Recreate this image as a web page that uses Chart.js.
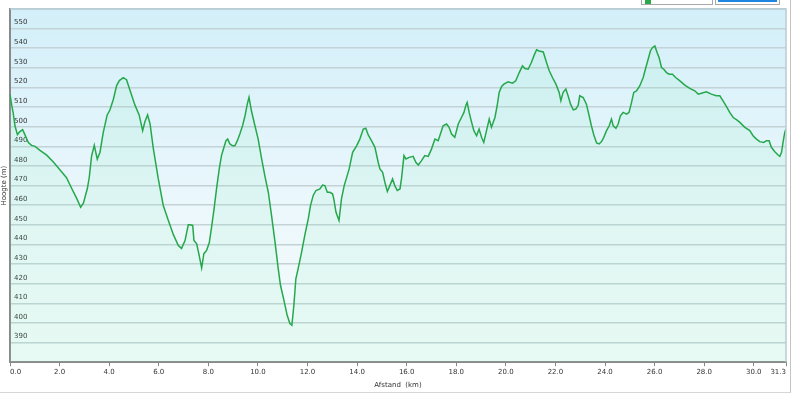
<!DOCTYPE html>
<html>
<head>
<meta charset="utf-8">
<script src="https://cdn.jsdelivr.net/npm/chart.js@4/dist/chart.umd.min.js"></script>
<style>
html,body{margin:0;padding:0;background:#fff;}
#wrap{position:relative;width:790px;height:392px;border-right:1px solid #c4c4c4;border-bottom:1px solid #d6d6d6;}
#chart{display:block;}
.tb{position:absolute;top:-10px;height:13px;border:1px solid #a8a8a8;background:#fff;}
#legBox{left:641px;width:70px;}
#legBox i{position:absolute;left:3px;top:9px;width:6px;height:4px;background:#2aa84a;}
#btnBox{left:715px;width:63px;}
#btnBox i{position:absolute;left:2px;right:2px;top:8px;height:3px;background:#1e86e0;}
</style>
</head>
<body>
<div id="wrap">
  <canvas id="chart" width="790" height="392"></canvas>
  <div class="tb" id="legBox"><i></i></div>
  <div class="tb" id="btnBox"><i></i></div>
</div>
<script>
const distKm = [
  0, 0.07, 0.13, 0.2, 0.3, 0.4, 0.51, 0.6, 0.74, 0.87, 1.01, 1.21, 1.48, 1.75, 2.02, 2.28, 2.49, 2.69, 2.85, 2.96,
  3.12, 3.2, 3.29, 3.4, 3.52, 3.63, 3.76, 3.92, 4.03, 4.17, 4.3, 4.41, 4.57, 4.7, 4.87, 5.04, 5.21, 5.35, 5.44, 5.55,
  5.65, 5.78, 5.98, 6.18, 6.38, 6.59, 6.79, 6.92, 7.06, 7.19, 7.26, 7.37, 7.42, 7.53, 7.63, 7.73, 7.82, 7.93, 8.04, 8.13,
  8.23, 8.33, 8.44, 8.53, 8.63, 8.71, 8.78, 8.87, 8.98, 9.07, 9.17, 9.27, 9.38, 9.48, 9.57, 9.64, 9.74, 9.88, 10.01, 10.15,
  10.28, 10.42, 10.55, 10.69, 10.82, 10.91, 11.05, 11.18, 11.29, 11.37, 11.45, 11.53, 11.62, 11.76, 11.89, 12.03, 12.12, 12.23, 12.34, 12.5,
  12.61, 12.7, 12.8, 12.9, 13.01, 13.06, 13.15, 13.27, 13.37, 13.48, 13.58, 13.68, 13.82, 13.98, 14.11, 14.25, 14.35, 14.45, 14.58, 14.72,
  14.85, 14.92, 15.03, 15.12, 15.22, 15.32, 15.43, 15.52, 15.62, 15.73, 15.79, 15.89, 15.97, 16.1, 16.26, 16.37, 16.47, 16.6, 16.73, 16.87,
  17.0, 17.14, 17.27, 17.36, 17.47, 17.61, 17.71, 17.81, 17.94, 18.08, 18.21, 18.31, 18.39, 18.44, 18.52, 18.62, 18.71, 18.82, 18.92, 19.02,
  19.11, 19.22, 19.33, 19.42, 19.56, 19.65, 19.73, 19.83, 19.92, 20.09, 20.27, 20.4, 20.54, 20.67, 20.77, 20.9, 21.03, 21.13, 21.24, 21.34,
  21.51, 21.64, 21.75, 21.88, 22.02, 22.15, 22.22, 22.31, 22.42, 22.51, 22.61, 22.72, 22.82, 22.92, 22.98, 23.12, 23.25, 23.36, 23.45, 23.55,
  23.66, 23.76, 23.86, 23.95, 24.06, 24.17, 24.26, 24.33, 24.44, 24.53, 24.62, 24.73, 24.87, 24.97, 25.07, 25.16, 25.27, 25.4, 25.54, 25.65,
  25.74, 25.83, 25.91, 26.01, 26.1, 26.18, 26.28, 26.37, 26.48, 26.59, 26.72, 26.85, 27.02, 27.22, 27.42, 27.62, 27.76, 27.89, 28.09, 28.29,
  28.49, 28.63, 28.76, 28.9, 29.03, 29.17, 29.3, 29.44, 29.64, 29.84, 29.97, 30.11, 30.24, 30.4, 30.51, 30.62, 30.71, 30.85, 30.98, 31.05,
  31.12, 31.18, 31.25, 31.3
];
const heightM = [
  516.5, 511, 507, 500.5, 496, 497.5, 498.5, 496, 492, 490.5, 490, 488, 485.5, 482, 478, 474, 468.5, 463.5, 459, 461,
  468.5, 474.5, 485, 490.5, 483.5, 487, 497, 506, 508.5, 514, 521, 523.5, 525, 524, 517.5, 511, 506, 498, 502.5, 506,
  501.5, 489, 473.5, 460, 452.5, 445, 439.5, 438, 442, 450, 450, 449.7, 442, 440.3, 434.4, 428, 435.3, 437, 441, 448.8,
  458, 468.3, 478.5, 485.3, 489.5, 492.9, 493.7, 491.2, 490.3, 490.3, 492.9, 496.3, 500.5, 505.6, 511.5, 515, 508, 500.5, 493.7, 483.6,
  475, 466.6, 454.7, 441.2, 427.6, 419.2, 411.5, 403.9, 399.7, 398.8, 409, 422.5, 427.6, 436, 444.6, 453, 459.8, 465, 467.5, 468.3,
  470.3, 470, 466.6, 466.6, 465.8, 463.2, 456.4, 452.2, 463.2, 470, 474.2, 478.5, 487, 490.3, 493.7, 498.8, 499.2, 495.8, 492.9, 489.5,
  481.9, 478.5, 476.8, 471.7, 467, 470, 473.4, 470, 467.5, 468.3, 473.4, 485.3, 483.6, 484.4, 484.9, 481.9, 480.5, 482.7, 485.3, 484.9,
  488.6, 493.7, 492.9, 496.3, 500.5, 501.4, 499.7, 496.3, 494.6, 501.4, 504.7, 507.3, 511, 512.4, 507.3, 502.2, 498, 495.4, 498.8, 494.6,
  492, 498, 503.9, 499.7, 504.7, 510.7, 517.5, 520.5, 521.7, 522.9, 522.2, 523.4, 527.6, 531, 529.7, 529.3, 532.7, 536.1, 539.2, 538.6,
  538.1, 532.7, 528.5, 525.1, 521.7, 517.5, 513.2, 517.5, 519.2, 515.8, 511.5, 508.6, 509, 511, 515.8, 514.9, 511.5, 505.6, 500.5, 495.8,
  491.7, 491.2, 492.4, 494.6, 498, 500.5, 503.9, 500.5, 499.2, 501.4, 505.6, 507.3, 506.4, 507.3, 512.4, 517.5, 518.3, 520.8, 525.1, 530.3,
  534.4, 538.6, 540.3, 541.2, 537.8, 535.3, 530.2, 529.3, 527.6, 526.8, 526.8, 525.1, 523.4, 521.2, 519.5, 518.3, 516.6, 517.1, 517.8, 516.6,
  515.8, 515.8, 513.2, 510.3, 507.3, 504.7, 503.6, 502.2, 499.7, 498, 495.4, 493.7, 492.4, 492, 492.9, 492.9, 489.5, 487.3, 485.6, 484.9,
  487, 492, 497.1, 498.8
];
const xTicks = [0, 2, 4, 6, 8, 10, 12, 14, 16, 18, 20, 22, 24, 26, 28, 30, 31.3];
const yMin = 380, yMax = 560, yStep = 10;

const FONT = {family: "'DejaVu Sans', Verdana, sans-serif", size: 7};

// plot background gradient + light top/right border
const plotBg = {
  id: 'plotBg',
  beforeDraw(chart){
    const {ctx, chartArea: a} = chart;
    const g = ctx.createLinearGradient(0, a.top, 0, a.bottom);
    g.addColorStop(0, '#d3eff9');
    g.addColorStop(0.6, '#edf8fc');
    g.addColorStop(1, '#f5fcfc');
    ctx.save();
    ctx.fillStyle = g;
    ctx.fillRect(a.left, a.top, a.right - a.left, a.bottom - a.top);
    ctx.restore();
  },
  afterDraw(chart){
    const {ctx, chartArea: a} = chart;
    ctx.save();
    ctx.strokeStyle = '#b9ccd3';
    ctx.lineWidth = 1.5;
    ctx.beginPath();
    ctx.moveTo(a.left, a.top); ctx.lineTo(a.right, a.top); ctx.lineTo(a.right, a.bottom);
    ctx.stroke();
    ctx.restore();
  }
};

function fillGrad(context){
  const chart = context.chart;
  const a = chart.chartArea;
  if(!a) return 'rgba(100,230,160,0.1)';
  const g = chart.ctx.createLinearGradient(0, a.top, 0, a.bottom);
  g.addColorStop(0, 'rgba(100,230,165,0.10)');
  g.addColorStop(1, 'rgba(120,235,170,0.11)');
  return g;
}

const points = distKm.map((d, i) => ({x: d, y: heightM[i]}));

new Chart(document.getElementById('chart'), {
  type: 'line',
  data: {
    datasets: [{
      label: 'Hoogte',
      data: points,
      borderColor: '#25a84b',
      borderWidth: 1.5,
      backgroundColor: fillGrad,
      fill: 'start',
      pointRadius: 0,
      tension: 0
    }]
  },
  options: {
    responsive: false,
    animation: false,
    layout: {padding: {top: 9, right: 4, left: 0, bottom: 0}},
    plugins: {legend: {display: false}, tooltip: {enabled: false}},
    scales: {
      x: {
        type: 'linear',
        min: 0, max: 31.3,
        afterBuildTicks: s => { s.ticks = xTicks.map(v => ({value: v})); },
        ticks: {
          font: FONT, color: '#333', padding: 2, align: 'inner', maxRotation: 0, autoSkip: false,
          callback: v => Number(v).toFixed(1)
        },
        grid: {drawOnChartArea: false, drawTicks: true, tickLength: 4, color: '#888'},
        border: {color: '#8a8a8a', width: 2},
        title: {display: true, text: 'Afstand  (km)', font: FONT, color: '#333', padding: {top: 2, bottom: 3}}
      },
      y: {
        min: yMin, max: yMax,
        afterFit: s => { s.width = 10; },
        ticks: {
          stepSize: yStep, mirror: true, padding: 4, labelOffset: -6, font: FONT, color: '#333',
          callback: v => (v <= yMin || v >= yMax) ? '' : String(v)
        },
        grid: {color: '#c3d2d6', lineWidth: 1.5, drawTicks: false},
        border: {color: '#8a8a8a', width: 2},
        title: {display: true, text: 'Hoogte (m)', font: FONT, color: '#333', padding: {top: 0, bottom: 1}}
      }
    }
  },
  plugins: [plotBg]
});
</script>
</body>
</html>
